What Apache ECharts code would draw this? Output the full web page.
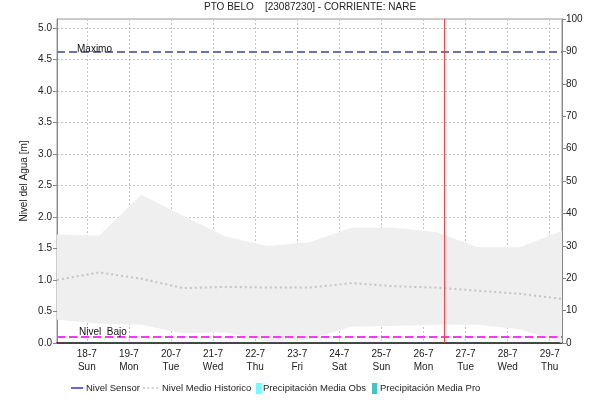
<!DOCTYPE html>
<html><head><meta charset="utf-8">
<script src="https://cdn.jsdelivr.net/npm/echarts@6/dist/echarts.min.js"></script>
<style>html,body{margin:0;padding:0;background:#fff}#c{width:590px;height:409px}</style>
</head><body><div id="c"></div>
<script>
// Daily values (07:00) from 17-7 to 29-7
const fechas = ['2021-07-17 07:00','2021-07-18 07:00','2021-07-19 07:00','2021-07-20 07:00','2021-07-21 07:00','2021-07-22 07:00','2021-07-23 07:00','2021-07-24 07:00','2021-07-25 07:00','2021-07-26 07:00','2021-07-27 07:00','2021-07-28 07:00','2021-07-29 07:00'];
const nivelMinHist = [0.37,0.31,0.29,0.15,0.17,0.02,0.05,0.26,0.27,0.29,0.29,0.22,0.00];
const nivelMaxHist = [1.72,1.70,2.35,2.02,1.69,1.54,1.60,1.83,1.83,1.76,1.52,1.52,1.78];
const nivelMedioHist = [1.00,1.12,1.02,0.87,0.89,0.88,0.88,0.95,0.90,0.88,0.83,0.78,0.70];
const nivelSensor = [];
const precipObs = [];
const precipPro = [];
const nivelMaximo = 4.62;
const nivelBajoVal = 0.10;
const fechaActual = '2021-07-26 12:00';
const xInicio = '2021-07-17 07:00';
const xFin = '2021-07-29 07:00';
const diasSemana = ['Sun','Mon','Tue','Wed','Thu','Fri','Sat'];
const titulo = 'PTO BELO    [23087230] - CORRIENTE: NARE';
const leyenda = ['Nivel Sensor', 'Nivel Medio Historico', 'Precipitación Media Obs', 'Precipitación Media Pro'];

const FONT = 'Liberation Sans, Arial, sans-serif';
const chart = echarts.init(document.getElementById('c'));
const bandBase = fechas.map((f,i)=>[f, nivelMinHist[i]]);
const bandDiff = fechas.map((f,i)=>[f, +(nivelMaxHist[i]-nivelMinHist[i]).toFixed(3)]);
const medio = fechas.map((f,i)=>[f, nivelMedioHist[i]]);

const iconLinea = 'path://M0,0h12v1.2h-12z';
const iconPuntos = 'path://M0,0h2v1.6h-2zM4.3,0h2v1.6h-2zM8.6,0h2v1.6h-2zM12.9,0h2v1.6h-2z';
const iconRect = 'path://M0,0h5v11h-5z';
const legendLefts = [71, 143, 256, 372];
const legendIcons = [iconLinea, iconPuntos, iconRect, iconRect];
const legendW = [12, 15, 5, 5];
const legendPad = [-2, -1, -3, -2];

chart.setOption({
  animation: false,
  textStyle: {fontFamily: FONT},
  title: {text: titulo, left: 204, top: 2, padding: [0,0,0,0], textStyle: {fontSize: 10, fontWeight: 'normal', color: '#222', fontFamily: FONT}},
  grid: {left: 57, top: 19, width: 505, height: 324, show: true, borderColor: '#999', borderWidth: 1, containLabel: false, outerBoundsMode: 'none'},
  legend: leyenda.map((n, i) => ({
    left: legendLefts[i], top: 383, padding: 0, itemWidth: legendW[i], itemHeight: 11, itemGap: 4,
    textStyle: {fontSize: 9.5, color: '#222', fontFamily: FONT, padding: [0,0,0,legendPad[i]]},
    data: [{name: n, icon: legendIcons[i]}]
  })),
  xAxis: {
    type: 'time', min: xInicio, max: xFin,
    minInterval: 86400000, maxInterval: 86400000,
    axisLine: {show: true, lineStyle: {color: '#444', type: [1,1], width: 2}},
    axisTick: {show: false},
    splitLine: {show: true, lineStyle: {color: '#c4c4c4', type: [2,2], width: 1}},
    axisLabel: {
      showMinLabel: false, showMaxLabel: false, margin: 5,
      fontSize: 10, color: '#222', lineHeight: 13, fontFamily: FONT,
      formatter: function (v) {
        const d = new Date(v);
        if (d.getHours() !== 0 || d.getMinutes() !== 0) return '';
        return d.getDate() + '-' + (d.getMonth() + 1) + '\n' + diasSemana[d.getDay()];
      }
    }
  },
  yAxis: [{
    type: 'value', min: 0, max: 5.14, interval: 0.5,
    name: 'Nivel del Agua [m]', nameLocation: 'middle', nameGap: 28, nameMoveOverlap: false,
    nameTextStyle: {fontSize: 10, color: '#222', fontFamily: FONT},
    axisLine: {show: true, lineStyle: {color: '#888'}},
    axisTick: {show: true, length: 4, lineStyle: {color: '#888'}},
    axisLabel: {fontSize: 10, color: '#222', margin: 5, fontFamily: FONT,
      formatter: v => v.toFixed(1)},
    splitLine: {show: true, lineStyle: {color: '#c4c4c4', type: [2,2]}}
  }, {
    type: 'value', min: 0, max: 100, interval: 10, position: 'right',
    name: 'Precipitación [mm]', nameLocation: 'middle', nameGap: 33, nameMoveOverlap: false,
    nameTextStyle: {fontSize: 10, color: '#222', fontFamily: FONT},
    axisLine: {show: true, lineStyle: {color: '#888'}},
    axisTick: {show: true, length: 4, lineStyle: {color: '#888'}},
    axisLabel: {fontSize: 10, color: '#222', margin: 4, fontFamily: FONT},
    splitLine: {show: false}
  }],
  series: [
    {name: 'bandaMin', type: 'line', stack: 'banda', data: bandBase, symbol: 'none',
     lineStyle: {opacity: 0}, silent: true, z: 1},
    {name: 'bandaMax', type: 'line', stack: 'banda', data: bandDiff, symbol: 'none',
     lineStyle: {opacity: 0}, areaStyle: {color: '#efefef', opacity: 1}, silent: true, z: 1},
    {name: 'Nivel Sensor', type: 'line', data: nivelSensor, symbol: 'none',
     lineStyle: {color: '#0000cc', width: 1}, itemStyle: {color: '#0000cc'}, z: 5},
    {name: 'Nivel Medio Historico', type: 'line', data: medio, symbol: 'none',
     lineStyle: {color: '#c4c4c4', width: 2, type: [2,3]}, itemStyle: {color: '#c4c4c4'}, z: 4,
     markLine: {
       silent: true, symbol: 'none',
       data: [
         {yAxis: nivelMaximo, lineStyle: {color: '#6b74a3', type: [8,4], width: 2},
          label: {show: true, position: 'insideStartTop', formatter: 'Maximo', distance: [20, -2], color: '#111', fontSize: 10, fontFamily: FONT}},
         {yAxis: nivelBajoVal, lineStyle: {color: '#ff33ff', type: [8,4], width: 2},
          label: {show: true, position: 'insideStartTop', formatter: 'Nivel  Bajo', distance: [22, -1], color: '#111', fontSize: 10, fontFamily: FONT}},
         {xAxis: fechaActual, lineStyle: {color: '#ff4444', type: 'solid', width: 1}, label: {show: false}}
       ]
     }},
    {name: 'Precipitación Media Obs', type: 'line', yAxisIndex: 1, data: precipObs, symbol: 'none', itemStyle: {color: '#66ffff'}, lineStyle: {color: '#66ffff'}},
    {name: 'Precipitación Media Pro', type: 'line', yAxisIndex: 1, data: precipPro, symbol: 'none', itemStyle: {color: '#40c4c4'}, lineStyle: {color: '#40c4c4'}}
  ]
});
</script></body></html>
